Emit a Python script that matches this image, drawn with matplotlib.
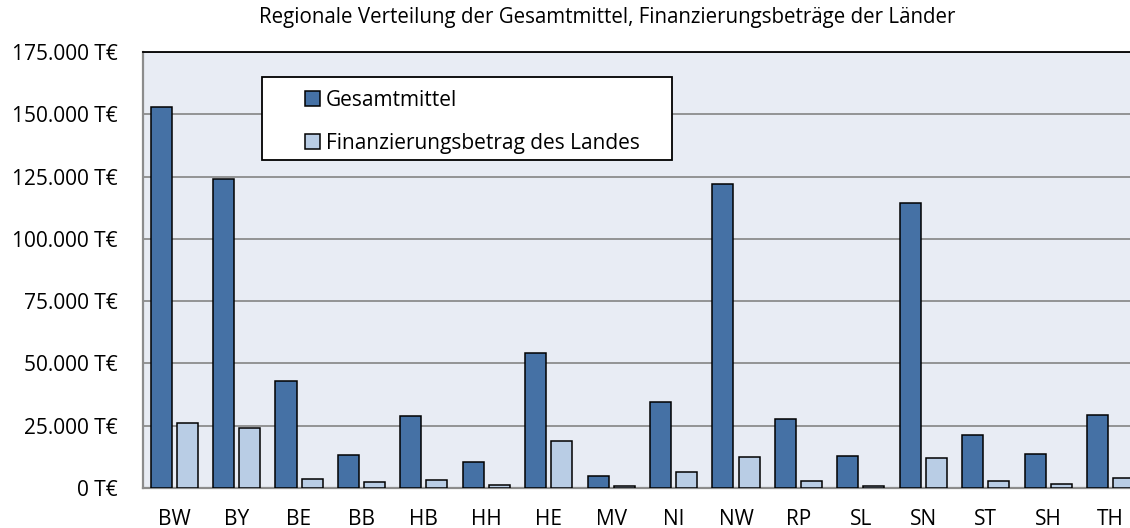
import matplotlib.pyplot as plt
import numpy as np
from matplotlib.patches import Rectangle

# Bundeslaender
laender = ["BW", "BY", "BE", "BB", "HB", "HH", "HE", "MV",
           "NI", "NW", "RP", "SL", "SN", "ST", "SH", "TH"]

# values in T€
gesamtmittel = [153000, 123900, 42900, 13400, 29000, 10600, 54000, 4900,
                34400, 122000, 27700, 12800, 114200, 21300, 13800, 29300]
landesanteil = [26000, 24200, 3600, 2500, 3200, 1200, 19000, 800,
                6500, 12600, 2900, 900, 11900, 2900, 1600, 4000]

y_ticks = [0, 25000, 50000, 75000, 100000, 125000, 150000, 175000]

title = "Regionale Verteilung der Gesamtmittel, Finanzierungsbeträge der Länder"

plt.rcParams['font.family'] = ['Open Sans', 'DejaVu Sans']
fs = 15

fig = plt.figure(figsize=(11.3, 5.28), dpi=100)
# plot area runs past the right edge of the picture, like in the original
ax = fig.add_axes([143 / 1130, 40 / 528, 998.7 / 1130, 436 / 528])
ax.set_facecolor("#E8ECF4")

x = np.arange(len(laender))
w = 0.337
off = 0.209
ax.bar(x - off, gesamtmittel, w, color="#4571A5", edgecolor="black",
       linewidth=1.1, label="Gesamtmittel", zorder=3)
ax.bar(x + off, landesanteil, w, color="#B9CDE5", edgecolor="black",
       linewidth=1.1, label="Finanzierungsbetrag des Landes", zorder=3)

ax.set_xlim(-0.5, len(laender) - 0.5)
ax.set_ylim(0, 175000)
ax.set_yticks(y_ticks)
ax.set_yticklabels([f"{v:,.0f}".replace(",", ".") + " T€" for v in y_ticks])
ax.set_xticks(x)
ax.set_xticklabels(laender)
ax.yaxis.grid(True, color="#8C8C8C", linewidth=1.3, zorder=0)
ax.set_axisbelow(True)
ax.tick_params(axis="y", length=0, pad=18, labelsize=fs)
ax.tick_params(axis="x", length=0, pad=15, labelsize=fs)

for s in ["left", "bottom"]:
    ax.spines[s].set_color("#8C8C8C")
    ax.spines[s].set_linewidth(1.6)
ax.spines["top"].set_color("black")
ax.spines["top"].set_linewidth(1.3)
ax.spines["right"].set_visible(False)

fig.text(607 / 1130, 1 - 18 / 528, title, ha="center", va="center", fontsize=14.8)

# legend box
box = Rectangle((262 / 1130, 1 - 160 / 528), 410 / 1130, 83 / 528,
                transform=fig.transFigure, facecolor="white",
                edgecolor="black", linewidth=1.3, zorder=5)
fig.patches.append(box)
leg = fig.legend(loc="upper left", bbox_to_anchor=(305 / 1130, 1 - 90 / 528),
                 frameon=False, fontsize=fs, handlelength=0.72,
                 handleheight=0.72, handletextpad=0.29, labelspacing=1.04,
                 borderpad=0, borderaxespad=0)
leg.set_zorder(6)

fig.savefig("out.png", dpi=100)
